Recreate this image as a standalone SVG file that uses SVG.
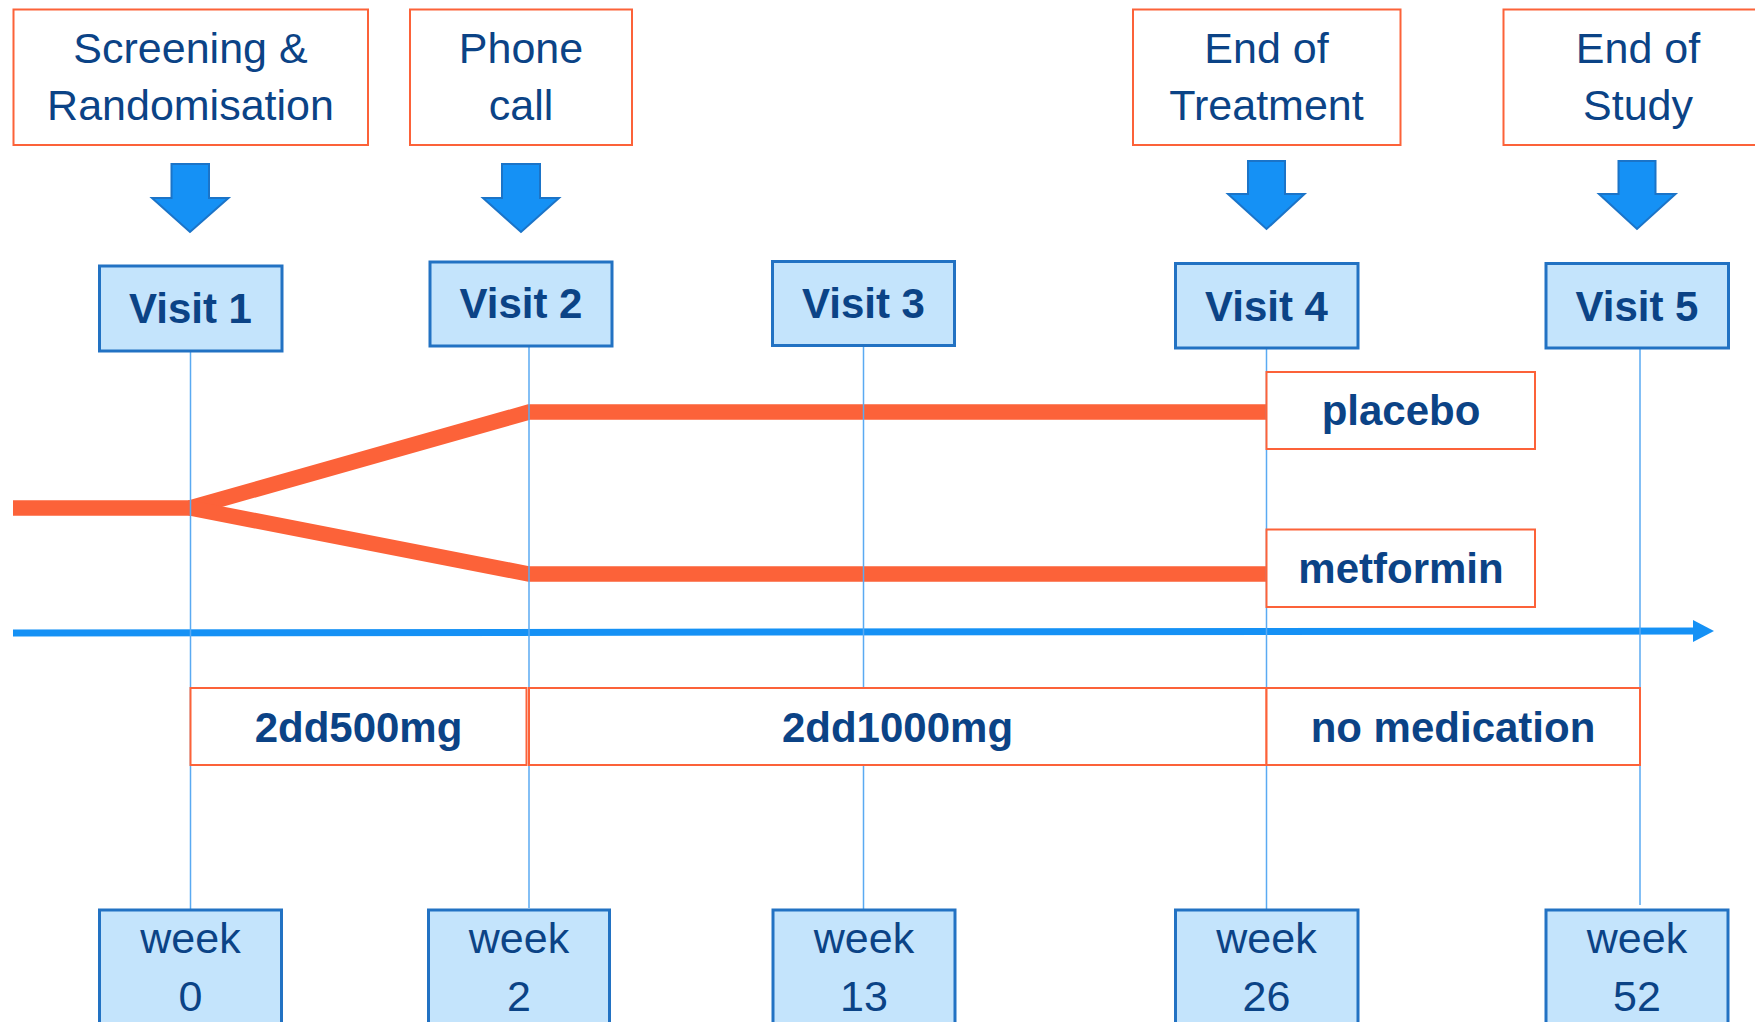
<svg xmlns="http://www.w3.org/2000/svg" width="1755" height="1022" viewBox="0 0 1755 1022">
<defs>
<style>
.t{font-family:"Liberation Sans",Arial,sans-serif;fill:#0B4386;text-anchor:middle}
.r{font-size:43px}
.b{font-size:42px;font-weight:bold}
.ob{fill:#FFFFFF;stroke:#FC6239;stroke-width:2}
.vb{fill:#C4E4FC;stroke:#2272C3;stroke-width:3}
.da{fill:#1591F5;stroke:#1B74C8;stroke-width:2;stroke-linejoin:miter}
.vl{stroke:#5AAAF2;stroke-width:1.5;fill:none}
.tr{stroke:#FC6239;stroke-width:15.5;fill:none;stroke-linejoin:miter}
</style>
</defs>
<rect width="1755" height="1022" fill="#FFFFFF"/>

<g id="connectors">
  <polygon class="da" points="171.5,164 209,164 209,198 228.5,198 190,232 152,198 171.5,198"/>
  <polygon class="da" points="502,164 540,164 540,198 559,198 521,232 483,198 502,198"/>
  <polygon class="da" points="1248,161 1285,161 1285,194 1304.5,194 1266.5,229 1228,194 1248,194"/>
  <polygon class="da" points="1618.5,161 1655.5,161 1655.5,194 1675.5,194 1637,229 1599,194 1618.5,194"/>
  <path class="tr" d="M13,508 H190"/>
  <path class="tr" d="M190,508 L529,412 H1266"/>
  <path class="tr" d="M190,508 L529,574 H1266"/>
  <path d="M13,633 L1696,631" stroke="#1591F5" stroke-width="7" fill="none"/>
  <polygon points="1693,620 1714,631 1693,642" fill="#1591F5"/>
  <line class="vl" x1="190.5" y1="351" x2="190.5" y2="910"/>
  <line class="vl" x1="529" y1="346" x2="529" y2="908"/>
  <line class="vl" x1="863.5" y1="345" x2="863.5" y2="910"/>
  <line class="vl" x1="1266.5" y1="348" x2="1266.5" y2="910"/>
  <line class="vl" x1="1640" y1="348" x2="1640" y2="905"/>
</g>

<g id="screening">
  <rect class="ob" x="13.5" y="9.5" width="354.5" height="135.5"/>
  <text class="t r" x="190.5" y="63">Screening &amp;</text>
  <text class="t r" x="190.5" y="120">Randomisation</text>
</g>
<g id="phone">
  <rect class="ob" x="410" y="9.5" width="222" height="135.5"/>
  <text class="t r" x="521" y="63">Phone</text>
  <text class="t r" x="521" y="120">call</text>
</g>
<g id="end-treatment">
  <rect class="ob" x="1133" y="9.5" width="267.5" height="135.5"/>
  <text class="t r" x="1266.5" y="63">End of</text>
  <text class="t r" x="1266.5" y="120">Treatment</text>
</g>
<g id="end-study">
  <rect class="ob" x="1503.5" y="9.5" width="270" height="135.5"/>
  <text class="t r" x="1638" y="63">End of</text>
  <text class="t r" x="1638" y="120">Study</text>
</g>

<g id="visit1">
  <rect class="vb" x="99.5" y="266" width="182.5" height="85"/>
  <text class="t b" x="190.5" y="323">Visit 1</text>
</g>
<g id="visit2">
  <rect class="vb" x="430" y="262" width="182" height="84"/>
  <text class="t b" x="521" y="318">Visit 2</text>
</g>
<g id="visit3">
  <rect class="vb" x="772.5" y="261.5" width="182" height="84"/>
  <text class="t b" x="863.5" y="318">Visit 3</text>
</g>
<g id="visit4">
  <rect class="vb" x="1175.5" y="263.5" width="182.5" height="84.5"/>
  <text class="t b" x="1266.5" y="321">Visit 4</text>
</g>
<g id="visit5">
  <rect class="vb" x="1546" y="263.5" width="182.5" height="84.5"/>
  <text class="t b" x="1637" y="321">Visit 5</text>
</g>

<g id="placebo">
  <rect class="ob" x="1266.5" y="372" width="268.5" height="77"/>
  <text class="t b" x="1401" y="425">placebo</text>
</g>
<g id="metformin">
  <rect class="ob" x="1266.5" y="529.5" width="268.5" height="77.5"/>
  <text class="t b" x="1401" y="583">metformin</text>
</g>

<g id="dose500">
  <rect class="ob" x="190.5" y="688" width="336" height="77"/>
  <text class="t b" x="358.5" y="741.5">2dd500mg</text>
</g>
<g id="dose1000">
  <rect class="ob" x="529" y="688" width="737.5" height="77"/>
  <text class="t b" x="897.5" y="741.5">2dd1000mg</text>
</g>
<g id="nomed">
  <rect class="ob" x="1266.5" y="688" width="373.5" height="77"/>
  <text class="t b" x="1453" y="741.5">no medication</text>
</g>

<g id="week0">
  <rect class="vb" x="99.5" y="910" width="182" height="130"/>
  <text class="t r" x="190.5" y="953">week</text>
  <text class="t r" x="190.5" y="1011">0</text>
</g>
<g id="week2">
  <rect class="vb" x="428.5" y="910" width="181" height="130"/>
  <text class="t r" x="519" y="953">week</text>
  <text class="t r" x="519" y="1011">2</text>
</g>
<g id="week13">
  <rect class="vb" x="773" y="910" width="182" height="130"/>
  <text class="t r" x="864" y="953">week</text>
  <text class="t r" x="864" y="1011">13</text>
</g>
<g id="week26">
  <rect class="vb" x="1175.5" y="910" width="182.5" height="130"/>
  <text class="t r" x="1266.5" y="953">week</text>
  <text class="t r" x="1266.5" y="1011">26</text>
</g>
<g id="week52">
  <rect class="vb" x="1546" y="910" width="182" height="130"/>
  <text class="t r" x="1637" y="953">week</text>
  <text class="t r" x="1637" y="1011">52</text>
</g>
</svg>
